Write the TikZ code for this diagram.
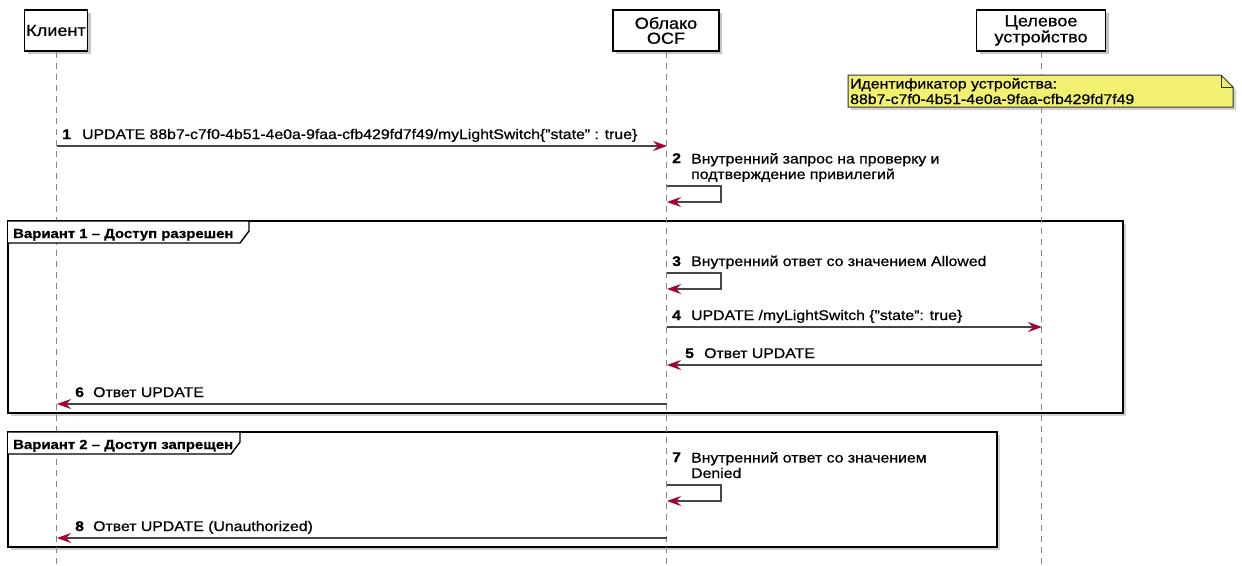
\documentclass[tikz,border=0pt]{standalone}
\usepackage{fontspec}
\setmainfont{Liberation Sans}[FakeStretch=1.13,FakeBold=0.7]
\usetikzlibrary{arrows.meta,shadows,positioning}

\definecolor{msgred}{RGB}{168,0,54}
\definecolor{notefill}{RGB}{242,240,112}
\definecolor{msgline}{RGB}{70,70,70}
\definecolor{lifegray}{RGB}{135,135,135}

\tikzset{
  partbox/.style={draw=black,line width=1.2pt,fill=white,align=center,
    font=\fontsize{16}{15}\selectfont,minimum height=41pt,inner xsep=1pt,
    drop shadow={shadow xshift=3pt,shadow yshift=-3pt,fill=black!45}},
  lifeline/.style={draw=lifegray,line width=0.9pt,dash pattern=on 6pt off 5pt},
  msgarrow/.style={draw=msgline,line width=1.1pt,
    -{Stealth[length=14pt,width=10pt,inset=5pt,color=msgred]}},
  msgnum/.style={anchor=base west,inner sep=0pt,font=\bfseries\fontsize{14}{15}\selectfont},
  msgtext/.style={anchor=base west,inner sep=0pt,align=left,font=\fontsize{14}{15.5}\selectfont},
  altframe/.style={draw=black,line width=2.6pt,fill=white,
    drop shadow={shadow xshift=3pt,shadow yshift=-3pt,fill=black!35}},
  alttab/.style={draw=black,line width=1.4pt,fill=white},
  altlabel/.style={anchor=base west,inner sep=0pt,font=\bfseries\fontsize{13.2}{14}\selectfont},
  notebox/.style={draw=black!80,line width=1pt,fill=notefill,
    drop shadow={shadow xshift=3pt,shadow yshift=-3pt,fill=black!35}}
}

\begin{document}
\begin{tikzpicture}[x=1pt,y=-1pt]
  \useasboundingbox (0,0) rectangle (1242,565);

  % frames of the two variants
  \draw[altframe] (8,221) rectangle (1123,413);
  \draw[altframe] (8,432) rectangle (997,547);

  % participants
  \node[partbox,minimum width=63pt] (klient) at (56,30.5) {Клиент};
  \node[partbox,minimum width=106pt] (oblako) at (666,30.5) {Облако\\OCF};
  \node[partbox,minimum width=129pt] (ustr) at (1041,30.5) {Целевое\\устройство};
  \coordinate (bottom) at (0,565);
  \draw[lifeline] (klient.south) -- (klient.south |- bottom);
  \draw[lifeline] (oblako.south) -- (oblako.south |- bottom);
  \draw[lifeline] (ustr.south) -- (ustr.south |- bottom);

  % note on the device
  \draw[notebox] (848,75) -- (1221,75) -- (1233,87) -- (1233,107) -- (848,107) -- cycle;
  \draw[draw=black!80,line width=1pt] (1221,75) -- (1221,87) -- (1233,87);
  \node[msgtext] (notetxt) at (850,104) {Идентификатор устройства:\\88b7-c7f0-4b51-4e0a-9faa-cfb429fd7f49};

  % tabs
  \draw[alttab] (8,221) -- (249,221) -- (249,231) -- (240,243) -- (8,243);
  \node[altlabel] (alt1) at (13,238) {Вариант 1 – Доступ разрешен};
  \draw[alttab] (8,432) -- (240,432) -- (240,442) -- (231,454) -- (8,454);
  \node[altlabel] (alt2) at (13,449) {Вариант 2 – Доступ запрещен};

  % 1
  \coordinate (k1) at (57,146);
  \coordinate (o1) at (667,146);
  \node[msgnum] (n1) at (62,139) {1};
  \node[msgtext] (t1) at (82,139) {UPDATE 88b7-c7f0-4b51-4e0a-9faa-cfb429fd7f49/myLightSwitch\{"state" : true\}};
  \draw[msgarrow] (k1) -- (o1);

  % 2
  \coordinate (o2a) at (667,186);
  \coordinate (o2b) at (667,202);
  \node[msgnum] (n2) at (672,163) {2};
  \node[msgtext] (t2) at (691,179) {Внутренний запрос на проверку и\\подтверждение привилегий};
  \draw[msgarrow] (o2a) -- ++(54,0) |- (o2b);

  % 3
  \coordinate (o3a) at (667,273);
  \coordinate (o3b) at (667,289);
  \node[msgnum] (n3) at (672,266) {3};
  \node[msgtext] (t3) at (691,266) {Внутренний ответ со значением Allowed};
  \draw[msgarrow] (o3a) -- ++(54,0) |- (o3b);

  % 4
  \coordinate (o4) at (667,327);
  \coordinate (u4) at (1042,327);
  \node[msgnum] (n4) at (672,320) {4};
  \node[msgtext] (t4) at (691,320) {UPDATE /myLightSwitch \{"state": true\}};
  \draw[msgarrow] (o4) -- (u4);

  % 5
  \coordinate (u5) at (1042,365);
  \coordinate (o5) at (667,365);
  \node[msgnum] (n5) at (685,358) {5};
  \node[msgtext] (t5) at (704,358) {Ответ UPDATE};
  \draw[msgarrow] (u5) -- (o5);

  % 6
  \coordinate (o6) at (667,404);
  \coordinate (k6) at (57,404);
  \node[msgnum] (n6) at (75,397) {6};
  \node[msgtext] (t6) at (93,397) {Ответ UPDATE};
  \draw[msgarrow] (o6) -- (k6);

  % 7
  \coordinate (o7a) at (667,485);
  \coordinate (o7b) at (667,501);
  \node[msgnum] (n7) at (672,462) {7};
  \node[msgtext] (t7) at (691,478) {Внутренний ответ со значением\\Denied};
  \draw[msgarrow] (o7a) -- ++(54,0) |- (o7b);

  % 8
  \coordinate (o8) at (667,538);
  \coordinate (k8) at (57,538);
  \node[msgnum] (n8) at (75,531) {8};
  \node[msgtext] (t8) at (93,531) {Ответ UPDATE (Unauthorized)};
  \draw[msgarrow] (o8) -- (k8);
\end{tikzpicture}
\end{document}
